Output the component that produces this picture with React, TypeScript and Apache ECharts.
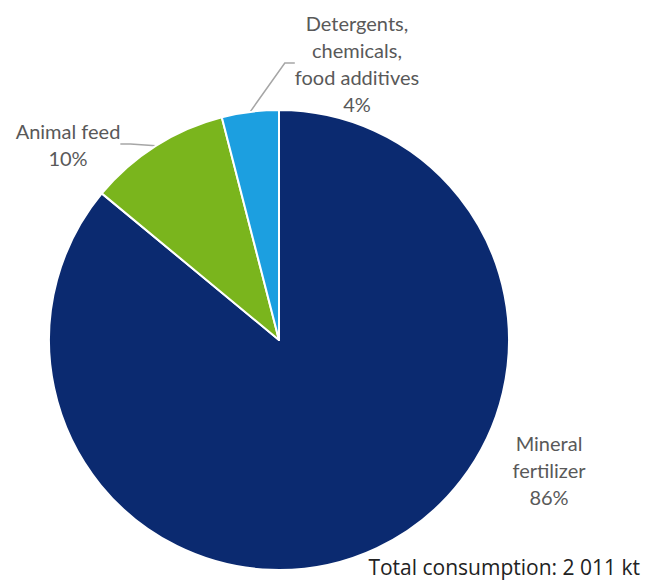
import React, { useEffect, useRef } from "react";
import * as echarts from "echarts";

const categories = ["Mineral\nfertilizer", "Animal feed", "Detergents,\nchemicals,\nfood additives"];
const shares = [86, 10, 4];
const colors = ["#0b2a70", "#7ab51d", "#1c9fe0"];
const totalLabel = "Total consumption: 2 011 kt";

export default function App() {
  const ref = useRef<HTMLDivElement>(null);
  useEffect(() => {
    if (!ref.current) return;
    const chart = echarts.init(ref.current, null, { renderer: "svg" });
    const labelPos = [
      { x: 549, y: 470 },
      { x: 68, y: 144 },
      { x: 357, y: 63 },
    ];
    chart.setOption({
      animation: false,
      backgroundColor: "#ffffff",
      series: [
        {
          type: "pie",
          center: [279, 340],
          radius: 230,
          startAngle: 90,
          clockwise: true,
          data: categories.map((c, i) => ({
            name: c,
            value: shares[i],
            itemStyle: { color: colors[i] },
            labelLine: { show: i !== 0 },
          })),
          itemStyle: { borderColor: "#ffffff", borderWidth: 2 },
          label: {
            show: true,
            position: "outside",
            formatter: "{b}\n{c}%",
            color: "#595959",
            fontFamily: "Lato, 'Open Sans', sans-serif",
            fontSize: 20,
            lineHeight: 27,
            align: "center",
            overflow: "none",
          },
          labelLine: {
            show: true,
            length: 10,
            length2: 10,
            lineStyle: { color: "#a6a6a6", width: 1.5 },
          },
          labelLayout: (params: any) => {
            const p = labelPos[params.dataIndex];
            return { x: p.x, y: p.y, align: "center", verticalAlign: "middle" };
          },
        },
      ],
      graphic: [
        {
          type: "text",
          right: 8,
          bottom: 5,
          style: {
            text: totalLabel,
            fill: "#222222",
            font: "21px 'Open Sans', sans-serif",
          },
        },
      ],
    });
    return () => chart.dispose();
  }, []);
  return (
    <div
      ref={ref}
      style={{ position: "fixed", left: 0, top: 0, width: 648, height: 582 }}
    />
  );
}
